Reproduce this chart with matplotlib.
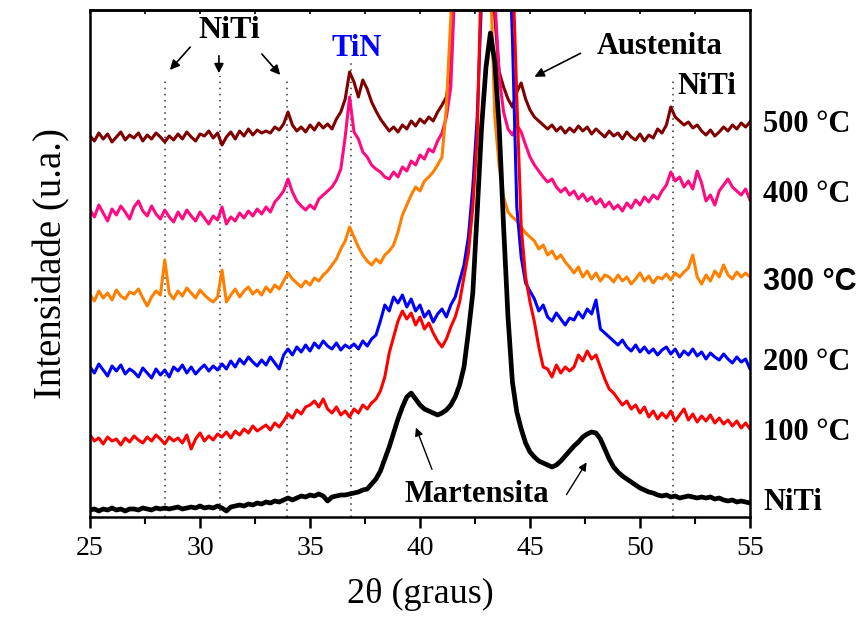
import numpy as np
import matplotlib
matplotlib.use('Agg')
import matplotlib.pyplot as plt

plt.rcParams['font.family'] = ['Liberation Serif', 'DejaVu Serif']

# 2theta de 25 a 55 graus, passo 0.2
dois_theta = np.linspace(25, 55, 151)

# intensidades (u.a.)
niti = [7, 8, 6, 8, 7, 9, 7, 8, 6, 8,
        8, 7, 9, 8, 7, 9, 8, 9, 8, 9,
        10, 8, 9, 10, 9, 11, 9, 10, 9, 11,
        9, 6, 10, 11, 12, 11, 13, 12, 14, 13,
        15, 14, 16, 15, 17, 19, 17, 19, 21, 20,
        22, 21, 23, 21, 16, 20, 21, 22, 22, 23,
        24, 25, 27, 28, 33, 38, 46, 58, 70, 84,
        98, 110, 120, 124, 118, 112, 108, 106, 104, 102,
        104, 107, 112, 120, 132, 150, 185, 224, 305, 390,
        450, 484, 455, 390, 290, 200, 135, 105, 88, 74,
        65, 60, 56, 54, 52, 50, 52, 56, 61, 66,
        71, 75, 80, 83, 85, 84, 78, 68, 58, 50,
        45, 41, 38, 35, 32, 29, 27, 25, 24, 22,
        21, 22, 20, 21, 19, 20, 21, 20, 19, 20,
        19, 20, 18, 19, 17, 16, 17, 15, 16, 15,
        14]

t100 = [82, 76, 79, 73, 80, 76, 78, 72, 79, 75,
        81, 77, 74, 80, 76, 82, 78, 73, 80, 76,
        79, 74, 82, 68, 78, 84, 76, 81, 77, 83,
        80, 85, 79, 86, 82, 88, 84, 91, 86, 89,
        92, 87, 94, 90, 96, 103, 99, 107, 103, 110,
        112, 116, 110, 118, 108, 104, 110, 102, 106, 100,
        108, 104, 112, 108, 114, 118, 126, 140, 164, 180,
        196, 206, 198, 204, 192, 200, 188, 194, 184, 176,
        170, 178, 190, 200, 215, 240, 264, 310, 380, 560,
        760, 860, 880, 840, 760, 620, 560, 420, 290, 240,
        215, 195, 170, 150, 148, 140, 152, 144, 150, 146,
        150, 162, 156, 166, 158, 162, 150, 138, 128, 124,
        118, 112, 116, 108, 112, 104, 110, 100, 106, 98,
        104, 99, 106, 96, 102, 108, 97, 103, 95, 101,
        96, 102, 94, 99, 93, 97, 91, 96, 89, 94,
        88]

t200 = [150, 144, 153, 147, 141, 151, 146, 152, 143, 148,
        145, 140, 149, 144, 139, 148, 142, 147, 140, 150,
        146, 152, 144, 150, 143, 148, 152, 146, 151, 147,
        153, 148, 156, 150, 158, 153, 160, 155, 151, 157,
        152, 160, 154, 148, 162, 168, 162, 170, 165, 172,
        166, 174, 169, 176, 171, 168, 174, 167, 172, 169,
        173, 168, 176, 171, 178, 182, 196, 212, 206, 220,
        214, 222, 210, 218, 206, 212, 200, 206, 195, 203,
        208, 200, 212, 220, 236, 252, 280, 330, 400, 520,
        700, 820, 850, 820, 720, 600, 480, 310, 260, 234,
        226, 218, 206, 212, 200, 196, 204, 198, 192, 199,
        197, 205, 199, 208, 203, 217, 188, 184, 180, 176,
        172, 177, 170, 166, 172, 165, 170, 164, 168, 162,
        167, 170, 163, 168, 160, 166, 162, 168, 161, 165,
        158, 164, 160, 157, 163, 158, 154, 160, 155, 158,
        148]

t300 = [222, 216, 226, 219, 224, 217, 227, 221, 218, 225,
        223, 228, 219, 211, 220, 226, 222, 257, 224, 218,
        226, 221, 229, 224, 219, 227, 222, 218, 215, 220,
        247, 215, 222, 228, 220, 226, 230, 223, 227, 222,
        230, 225, 232, 228, 236, 244, 238, 234, 230, 236,
        232, 239, 236, 242, 246, 252, 258, 268, 276, 290,
        280, 270, 262, 256, 252, 258, 254, 262, 266, 272,
        285, 302, 312, 322, 330, 326, 336, 340, 345, 352,
        360, 410, 500, 680, 820, 870, 880, 870, 840, 780,
        700, 540, 400, 350, 320, 305, 300, 296, 290, 284,
        280, 276, 268, 272, 262, 266, 258, 262, 255, 250,
        244, 250, 240, 246, 238, 244, 236, 242, 240, 235,
        242, 236, 240, 233, 238, 244, 236, 241, 234, 240,
        238, 243, 237, 244, 240, 245, 249, 262, 240, 233,
        242, 236, 246, 240, 252, 242, 238, 245, 240, 244,
        240]

t400 = [307, 300, 312, 304, 296, 308, 302, 311, 305, 298,
        310, 316, 306, 301, 311, 303, 298, 307, 300, 295,
        305, 298, 307, 301, 296, 305, 299, 293, 301, 297,
        310, 293, 300, 296, 304, 299, 306, 301, 308, 303,
        310, 305, 315, 320, 326, 338, 325, 316, 311, 307,
        312, 308, 318, 322, 326, 330, 337, 348, 380, 420,
        385, 378, 365, 360, 352, 348, 345, 340, 338, 345,
        340, 350, 346, 356, 352, 362, 358, 368, 365, 376,
        384, 400, 430, 540, 720, 830, 870, 880, 860, 820,
        760, 640, 520, 440, 405, 388, 382, 392, 385, 372,
        360, 352, 346, 340, 335, 338, 330, 325, 329, 322,
        326, 318, 323, 316, 320, 313, 318, 310, 315, 308,
        312, 306, 314, 309, 317, 312, 320, 315, 322, 318,
        326, 332, 345, 336, 340, 330, 336, 328, 346, 334,
        316, 322, 312, 326, 332, 338, 330, 326, 322, 328,
        317]

t500 = [381, 376, 384, 378, 383, 375, 380, 385, 377, 382,
        379, 384, 376, 382, 378, 384, 380, 375, 381, 377,
        383, 378, 385, 380, 376, 383, 381, 386, 379, 384,
        372, 380, 385, 378, 386, 381, 388, 382, 387, 384,
        386, 384, 390, 387, 393, 405, 392, 386, 390, 385,
        392, 387, 394, 389, 393, 388, 398, 405, 418, 445,
        435, 420, 437, 428, 415, 406, 398, 392, 386, 390,
        385, 392, 388, 396, 391, 398, 394, 400, 396, 405,
        412, 420, 450, 560, 750, 850, 880, 880, 860, 800,
        700, 590, 500, 445, 430, 418, 410, 425, 434, 418,
        407, 400, 396, 392, 388, 392, 386, 390, 384, 389,
        385, 391, 386, 390, 383, 388, 384, 380, 386, 381,
        384, 378, 385, 380, 377, 383, 376, 382, 379, 388,
        384, 392, 410, 400, 396, 392, 395, 389, 392, 386,
        382, 387, 381, 385, 390, 386, 392, 388, 394, 390,
        395]

amostras = [
    (t500, '#800000', '500 °C', 393, 'Liberation Serif'),
    (t400, '#FF0A80', '400 °C', 322, 'Liberation Serif'),
    (t300, '#FF8000', '300 °C', 235, 'Liberation Sans'),
    (t200, '#0000FF', '200 °C', 155, 'Liberation Serif'),
    (t100, '#FF0000', '100 °C', 85, 'Liberation Serif'),
]

fig = plt.figure(figsize=(8.56, 6.28), dpi=100)
ax = fig.add_axes([90 / 856, 111 / 628, 660 / 856, 507 / 628])

# linhas pontilhadas dos picos
for pos, topo in [(28.4, 437), (30.9, 441), (33.95, 437), (36.85, 457), (51.5, 437)]:
    ax.vlines(pos, 0, topo, colors='#333333', linestyles=(0, (1, 3)), linewidth=1.1, zorder=1)

for y, cor, rotulo, ytxt, fonte in amostras:
    ax.plot(dois_theta, y, color=cor, lw=2.2, zorder=2)
    ax.text(55.6, ytxt, rotulo, fontsize=22, fontweight='bold', va='center', ha='left',
            family=[fonte, 'DejaVu Sans'], clip_on=False)

ax.plot(dois_theta, niti, color='black', lw=3.4, zorder=3)
ax.text(55.6, 14, 'NiTi', fontsize=22, fontweight='bold', va='center', ha='left', clip_on=False)

ax.set_xlim(25, 55)
ax.set_ylim(0, 507)
ax.set_yticks([])
ax.set_xticks(range(25, 56, 5))
ax.set_xticks(np.arange(27.5, 55, 5), minor=True)
ax.tick_params(axis='x', which='major', direction='out', length=8, width=1.8, labelsize=20, pad=6)
ax.tick_params(axis='x', which='minor', direction='out', length=5, width=1.5)
for s in ax.spines.values():
    s.set_linewidth(1.8)

topo_ax = ax.secondary_xaxis('top')
topo_ax.set_xticks(range(25, 56, 5))
topo_ax.set_xticks(np.arange(27.5, 55, 5), minor=True)
topo_ax.tick_params(which='both', direction='in', length=3, width=1.2, labeltop=False)
topo_ax.spines['top'].set_linewidth(1.8)

ax.set_xlabel('2θ (graus)', fontsize=26, labelpad=12)
ax.set_ylabel('Intensidade (u.a.)', fontsize=28, labelpad=14)

# anotacoes
ax.text(31.35, 487, 'NiTi', fontsize=23, fontweight='bold', ha='center', va='center')
seta = dict(arrowstyle='-|>', color='black', lw=1.2, mutation_scale=14)
ax.annotate('', xy=(28.55, 445), xytext=(29.64, 472), arrowprops=seta)
ax.annotate('', xy=(30.86, 441), xytext=(30.86, 464), arrowprops=seta)
ax.annotate('', xy=(33.73, 440), xytext=(32.73, 465), arrowprops=seta)

ax.text(37.1, 469, 'TiN', fontsize=22, fontweight='bold', color='#0000FF', ha='center', va='center')

ax.text(50.9, 471, 'Austenita', fontsize=22, fontweight='bold', ha='center', va='center')
ax.annotate('', xy=(45.09, 439), xytext=(47.41, 465), arrowprops=seta)

ax.text(53.05, 431, 'NiTi', fontsize=22, fontweight='bold', ha='center', va='center')

ax.text(42.6, 22, 'Martensita', fontsize=22, fontweight='bold', ha='center', va='center')
seta2 = dict(arrowstyle='-|>', color='black', lw=1.0, mutation_scale=12)
ax.annotate('', xy=(39.77, 92), xytext=(40.59, 45), arrowprops=seta2)
ax.annotate('', xy=(47.64, 57), xytext=(46.59, 20), arrowprops=seta2)

fig.savefig('out.png', dpi=100)
